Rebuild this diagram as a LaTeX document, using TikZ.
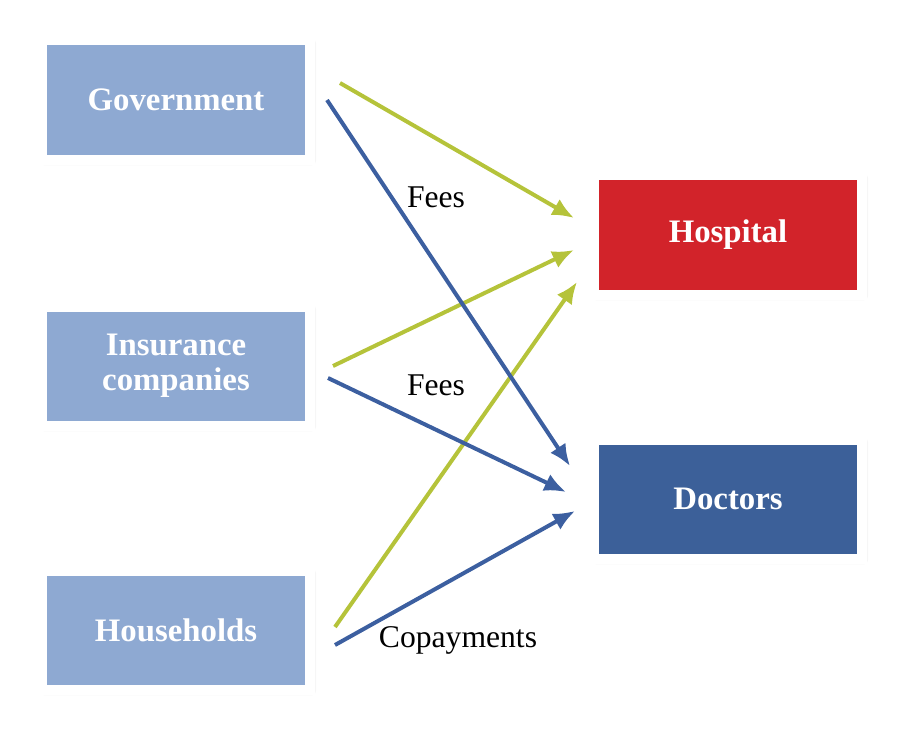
\documentclass[tikz,border=0pt]{standalone}
\usepackage{fontspec}
\setmainfont{Liberation Serif}
\usetikzlibrary{shadows.blur,arrows.meta}
\definecolor{lightbox}{HTML}{8EA9D2}
\definecolor{hospred}{HTML}{D2232A}
\definecolor{docblue}{HTML}{3C6099}
\definecolor{paygreen}{HTML}{B5C33A}
\definecolor{payblue}{HTML}{3C5FA0}
\begin{document}
\begin{tikzpicture}[
        x=0.03cm, y=-0.03cm,
        box/.style={
            draw=white,
            line width=0.3cm,
            minimum width=8.04cm,
            minimum height=3.57cm,
            align=center,
            text=white,
            font=\fontsize{28}{30}\selectfont\bfseries,
            blur shadow={shadow blur steps=10, shadow blur radius=1.2mm,
                shadow xshift=0.6mm, shadow yshift=-0.6mm, shadow opacity=55},
        },
        flow/.style={
            line width=0.12cm,
            -{Latex[length=0.65cm, width=0.55cm]},
        },
        lbl/.style={
            font=\fontsize{27}{30}\selectfont,
        },
    ]
    \useasboundingbox (0, 0) rectangle (904, 733);

    \node[box, fill=lightbox] (gov)  at (176, 100) {Government};
    \node[box, fill=lightbox] (ins)  at (176, 366) {Insurance\\companies};
    \node[box, fill=lightbox] (hh)   at (176, 630) {Households};
    \node[box, fill=hospred]  (hosp) at (728, 235) {Hospital};
    \node[box, fill=docblue]  (doc)  at (728, 499) {Doctors};

    % payment start and end points
    \coordinate (g1) at (340, 83);  \coordinate (g2) at (327, 100);
    \coordinate (i1) at (333, 366); \coordinate (i2) at (328, 378);
    \coordinate (h1) at (335, 627); \coordinate (h2) at (335, 645);
    \coordinate (ha) at (574, 218); \coordinate (hb) at (574, 250);
    \coordinate (hc) at (577, 282);
    \coordinate (da) at (570, 466); \coordinate (db) at (566, 492);
    \coordinate (dc) at (575, 511);

    \draw[flow, paygreen] (g1) -- (ha);
    \draw[flow, paygreen] (i1) -- (hb);
    \draw[flow, paygreen] (h1) -- (hc);
    \draw[flow, payblue]  (g2) -- (da);
    \draw[flow, payblue]  (i2) -- (db);
    \draw[flow, payblue]  (h2) -- (dc);

    \node[lbl] (fees1) at (436, 197) {Fees};
    \node[lbl] (fees2) at (436, 385) {Fees};
    \node[lbl] (copay) at (458, 640) {Copayments};

\end{tikzpicture}
\end{document}
